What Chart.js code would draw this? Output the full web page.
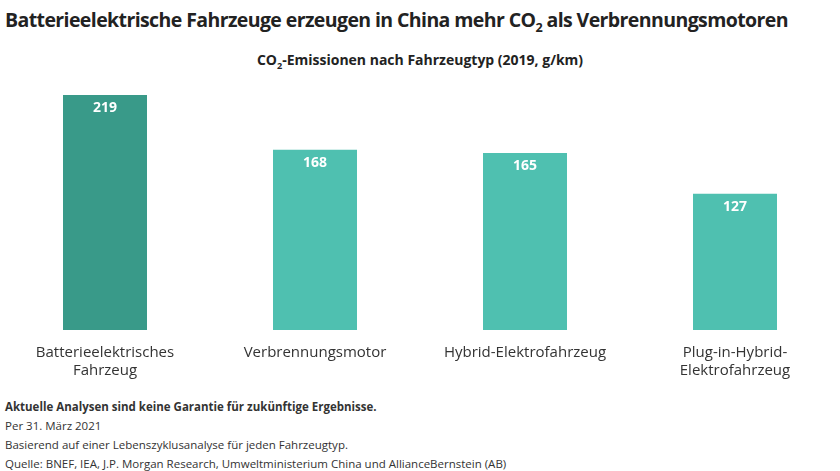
<!DOCTYPE html>
<html><head><meta charset="utf-8">
<script src="https://cdn.jsdelivr.net/npm/chart.js@4"></script>
<style>
body{margin:0;width:840px;height:471px;background:#fff;font-family:"Open Sans","DejaVu Sans",sans-serif;color:#222;position:relative;overflow:hidden}
#t{position:absolute;left:5px;top:6px;font-size:19.5px;font-weight:700;letter-spacing:-0.6px}
#s{position:absolute;left:0;width:840px;top:50px;text-align:center;font-size:14px;font-weight:700}
#c{position:absolute;left:0;top:90px}
#f{position:absolute;left:5px;top:397px;font-size:11.5px;line-height:19px;color:#333}
sub{font-size:65%}
</style></head><body>
<div id="t">Batterieelektrische Fahrzeuge erzeugen in China mehr CO<sub>2</sub> als Verbrennungsmotoren</div>
<div id="s">CO<sub>2</sub>-Emissionen nach Fahrzeugtyp (2019, g/km)</div>
<canvas id="c" width="840" height="300"></canvas>
<div id="f"><b>Aktuelle Analysen sind keine Garantie für zukünftige Ergebnisse.</b><br>Per 31. März 2021<br>Basierend auf einer Lebenszyklusanalyse für jeden Fahrzeugtyp.<br>Quelle: BNEF, IEA, J.P. Morgan Research, Umweltministerium China und AllianceBernstein (AB)</div>
<script>
const categories=[["Batterieelektrisches","Fahrzeug"],"Verbrennungsmotor","Hybrid-Elektrofahrzeug",["Plug-in-Hybrid-","Elektrofahrzeug"]];
const values=[219,168,165,127];
const colors=["#399a89","#4fc0b0","#4fc0b0","#4fc0b0"];
const lbl={id:"lbl",afterDatasetsDraw(ch){const c=ch.ctx;c.save();c.fillStyle="#fff";c.font="bold 14px 'Open Sans',sans-serif";c.textAlign="center";c.textBaseline="top";
ch.getDatasetMeta(0).data.forEach((b,i)=>c.fillText(values[i],b.x,b.y+6));c.restore();}};
new Chart(document.getElementById("c"),{type:"bar",data:{labels:categories,datasets:[{data:values,backgroundColor:colors,categoryPercentage:0.4,barPercentage:1}]},
plugins:[lbl],
options:{responsive:false,animation:false,layout:{padding:{top:5}},plugins:{legend:{display:false},tooltip:{enabled:false}},
scales:{x:{grid:{display:false},border:{display:false},ticks:{color:"#333",font:{size:15,family:"'Open Sans',sans-serif"},maxRotation:0,padding:6},afterFit(s){s.height=60}},
y:{display:false,min:0,max:219}}}});
</script>
</body></html>
